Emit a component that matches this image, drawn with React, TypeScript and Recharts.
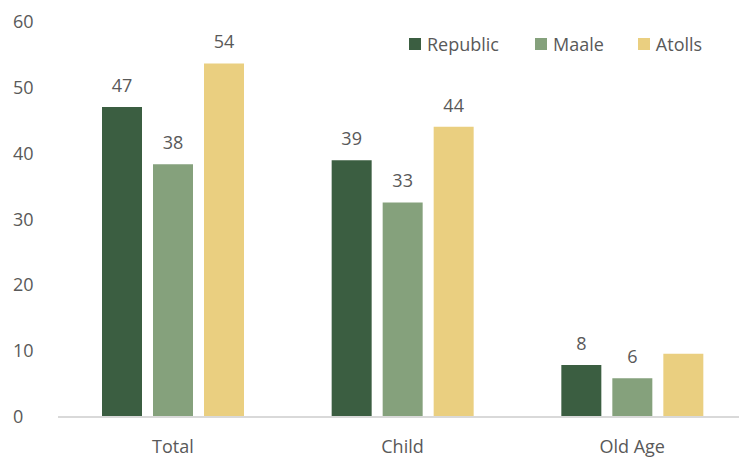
import { BarChart, Bar, XAxis, YAxis, LabelList } from "recharts";

const categories = ["Total", "Child", "Old Age"];
const republic = [47.1, 39.0, 7.9];
const maale = [38.4, 32.6, 5.9];
const atolls = [53.7, 44.1, 9.6];
// the reference leaves the Old Age / Atolls bar without a label
const atollsLabels = [53.7, 44.1, null];
const yTicks = [0, 10, 20, 30, 40, 50, 60];

const series = [
  { key: "republic", name: "Republic", color: "#3b5e41" },
  { key: "maale", name: "Maale", color: "#85a17c" },
  { key: "atolls", name: "Atolls", color: "#eacf80" },
];

const data = categories.map((name, i) => ({
  name,
  republic: republic[i],
  maale: maale[i],
  atolls: atolls[i],
  atollsLabel: atollsLabels[i],
}));

const FONT = "'Open Sans', sans-serif";
const TEXT = "#595959";
const FS = 18;

const YTick = ({ y, payload }: any) => (
  <text x={13} y={y} dy={6} fill={TEXT} fontSize={FS} fontFamily={FONT} textAnchor="start">
    {payload.value}
  </text>
);

// legend drawn as plain html so it takes no room from the plot
const ChartLegend = () => (
  <div
    style={{
      position: "absolute",
      left: 409,
      top: 32,
      display: "flex",
      fontFamily: FONT,
      fontSize: FS,
      color: TEXT,
      lineHeight: "24px",
    }}
  >
    {series.map((s, i) => (
      <div key={s.key} style={{ display: "flex", alignItems: "center", marginRight: i === 0 ? 36 : 34 }}>
        <span style={{ width: 12, height: 12, background: s.color, marginRight: 6, display: "inline-block" }} />
        <span>{s.name}</span>
      </div>
    ))}
  </div>
);

const fmt = (v: any) => (v == null ? "" : Math.round(Number(v)));

export default function App() {
  return (
    <div style={{ position: "fixed", left: 0, top: 0, width: 739, height: 457, overflow: "hidden", background: "#fff" }}>
      <BarChart
        width={760}
        height={457}
        data={data}
        margin={{ top: 22, right: 13, left: 0, bottom: 0 }}
        barSize={40}
        barGap={11}
      >
        <XAxis
          dataKey="name"
          height={40}
          axisLine={{ stroke: "#d9d9d9", strokeWidth: 2 }}
          tickLine={false}
          tick={{ fontSize: FS, fill: TEXT, fontFamily: FONT, dy: 15 }}
        />
        <YAxis
          width={58}
          domain={[0, 60]}
          ticks={yTicks}
          axisLine={false}
          tickLine={false}
          tick={<YTick />}
        />
        {series.map((s) => (
          <Bar key={s.key} dataKey={s.key} name={s.name} fill={s.color} isAnimationActive={false}>
            <LabelList
              dataKey={s.key === "atolls" ? "atollsLabel" : s.key}
              position="top"
              offset={15}
              formatter={fmt}
              style={{ fontSize: FS, fill: TEXT, fontFamily: FONT }}
            />
          </Bar>
        ))}
      </BarChart>
      <ChartLegend />
    </div>
  );
}
